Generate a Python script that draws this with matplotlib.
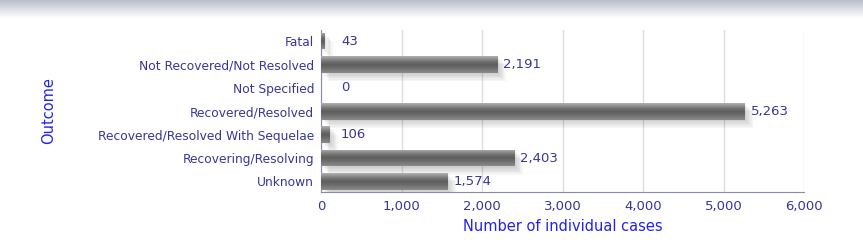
import matplotlib
matplotlib.use("Agg")
import matplotlib.pyplot as plt
import matplotlib.patheffects as pe
import numpy as np

# Data
outcomes = ["Fatal", "Not Recovered/Not Resolved", "Not Specified", "Recovered/Resolved",
            "Recovered/Resolved With Sequelae", "Recovering/Resolving", "Unknown"]
cases = [43, 2191, 0, 5263, 106, 2403, 1574]
x_ticks = [0, 1000, 2000, 3000, 4000, 5000, 6000]

label_col = "#363699"
title_col = "#2222ee"

plt.rcParams["font.family"] = "DejaVu Sans"
fig = plt.figure(figsize=(8.63, 2.44), dpi=100)

# grey band at the top of the panel
band = fig.add_axes([0, 1 - 18 / 244, 1, 18 / 244])
grad = np.linspace(0, 1, 50).reshape(-1, 1)
band.imshow(grad, aspect="auto", cmap=matplotlib.colors.LinearSegmentedColormap.from_list(
    "band", ["#babecc", "#ffffff"]), extent=[0, 1, 0, 1])
band.axis("off")

ax = fig.add_axes([321 / 863, 1 - 192 / 244, 483 / 863, 162 / 244])
y = np.arange(len(outcomes))

# soft shadow: several faint offset copies
shadow = [pe.SimplePatchShadow(offset=(k, -k), alpha=0.045, shadow_rgbFace="#404040") for k in range(1, 7)]
bars = ax.barh(y, cases, height=0.72, color="#6e6e6e", zorder=3,
               path_effects=shadow + [pe.Normal()])

# cylinder-like shading on each bar
shade = matplotlib.colors.LinearSegmentedColormap.from_list(
    "bar", ["#b0b0b0", "#8e8e8e", "#707070", "#5e5e5e", "#686868", "#7a7a7a", "#8a8a8a"])
for b in bars:
    if b.get_width() <= 0:
        continue
    im = ax.imshow(np.linspace(0, 1, 40).reshape(-1, 1), cmap=shade, aspect="auto",
                   extent=[b.get_x(), b.get_x() + b.get_width(), b.get_y() + b.get_height(), b.get_y()],
                   zorder=4)
    im.set_clip_path(b)

for i, v in enumerate(cases):
    ax.annotate(f"{v:,}", xy=(max(v, 174), i), xytext=(6, 0), textcoords="offset pixels",
                va="center", ha="left", color=label_col, fontsize=9.5, zorder=5)

ax.set_xlim(0, 6000)
ax.set_ylim(len(outcomes) - 0.55, -0.47)
ax.set_xticks(x_ticks)
ax.set_xticklabels([f"{t:,}" for t in x_ticks])
ax.set_yticks(y)
ax.set_yticklabels(outcomes)
ax.tick_params(axis="both", length=0, colors=label_col, labelsize=8.8)
ax.tick_params(axis="x", pad=6, labelsize=9.5)
ax.tick_params(axis="y", pad=5)
ax.grid(axis="x", color="#dcdce6", linewidth=1, zorder=0)
for s in ["top", "right"]:
    ax.spines[s].set_visible(False)
ax.spines["left"].set_color("#8a8aae")
ax.spines["bottom"].set_color("#8a8aae")
ax.set_xlabel("Number of individual cases", color=title_col, fontsize=10.5, labelpad=4)
ax.set_ylabel("Outcome", color=title_col, fontsize=10.5)
ax.yaxis.set_label_coords(-(321 - 56) / 483, 0.5)

fig.savefig("out.png", dpi=100)
